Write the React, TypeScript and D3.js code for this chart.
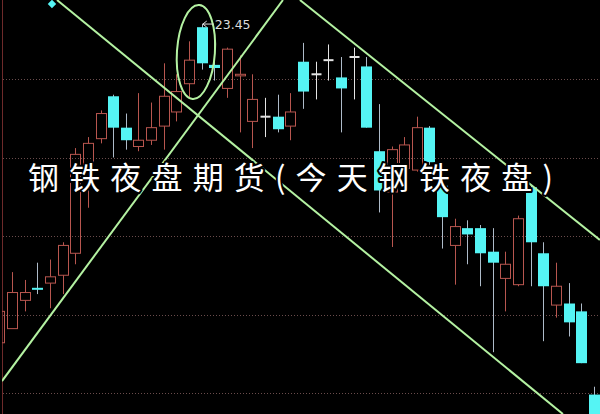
import React from 'react';
import * as d3 from 'd3';

// Daily candles (left → right), price units
const opens = [21.42, 21.51, 21.69, 21.77, 21.80, 21.85, 21.99, 22.55, 22.72, 22.99, 22.79, 22.67, 22.71, 22.80, 22.89, 23.07, 23.43, 23.19, 23.04, 23.12, 22.83, 22.86, 22.86, 22.80, 23.21, 23.13, 23.22, 23.11, 23.24, 23.18, 22.64, 22.38, 22.53, 22.52, 22.79, 22.42, 22.04, 22.15, 22.15, 22.00, 21.83, 21.79, 22.41, 21.99, 21.66, 21.67, 21.62, 21.09];
const highs = [21.69, 21.87, 21.82, 21.93, 21.95, 22.06, 22.66, 22.73, 22.90, 23.00, 22.88, 23.01, 22.95, 23.20, 23.13, 23.34, 23.45, 23.37, 23.30, 23.25, 23.13, 22.98, 23.00, 23.01, 23.33, 23.21, 23.32, 23.24, 23.30, 23.24, 22.94, 22.67, 22.73, 22.86, 22.80, 22.46, 22.21, 22.20, 22.17, 22.15, 22.00, 22.23, 22.42, 22.06, 21.93, 21.80, 21.67, 21.14];
const lows = [21.41, 21.51, 21.62, 21.73, 21.64, 21.73, 21.92, 22.28, 22.69, 22.60, 22.65, 22.64, 22.68, 22.65, 22.83, 22.98, 23.16, 23.09, 22.98, 22.76, 22.66, 22.73, 22.76, 22.71, 22.91, 22.97, 23.09, 22.76, 22.97, 22.79, 22.25, 22.03, 22.49, 22.51, 22.55, 22.02, 21.79, 21.92, 21.78, 21.36, 21.62, 21.78, 21.78, 21.43, 21.58, 21.46, 21.29, 20.90];
const closes = [21.62, 21.74, 21.74, 21.76, 21.84, 22.04, 22.62, 22.69, 22.88, 22.79, 22.71, 22.71, 22.79, 22.99, 23.02, 23.22, 23.20, 23.17, 23.29, 23.13, 22.97, 22.86, 22.78, 22.89, 23.02, 23.13, 23.22, 23.04, 23.24, 22.79, 22.39, 22.65, 22.68, 22.79, 22.57, 22.22, 22.16, 22.11, 21.99, 21.93, 21.92, 22.21, 22.06, 21.78, 21.78, 21.55, 21.29, 20.90];

const gridPrices = [23.1, 22.6, 22.1, 21.6, 21.1];

// Hand-drawn annotations in (candle index, price)
const trendLines: [number, number, number, number][] = [
  [4.557, 23.603, 44.55, 20.966],
  [0.209, 21.176, 22.42, 23.603],
  [23.76, 23.603, 47.47, 22.075],
];
const ellipseCenter = [15.54, 23.272];
const ellipseRadius = [1.5, 0.3];
const markerPoint = [4.16, 23.578];
const peakLabel = '23.45';
const peakIndex = 16;

const title = '钢铁夜盘期货(今天钢铁夜盘)';

const W = 600;
const H = 414;

const UP = '#b8564f';
const DOWN = '#55f4f4';
const DOWN_WICK = '#aebbc9';
const DOJI = '#e4e4e4';
const GREEN = '#b4f2a2';

export default function App() {
  const x = d3.scaleLinear().domain([0, 47]).range([-0.65, 593.9]);
  const y = d3.scaleLinear().domain([23.1, 21.1]).range([79, 393]);
  const bw = 10;

  const line = d3.line<[number, number]>().x((d) => x(d[0])).y((d) => y(d[1]));

  const candles = opens.map((o, i) => {
    const c = closes[i];
    const h = highs[i];
    const l = lows[i];
    const cx = Math.round(x(i)) + 0.5;
    if (o === c) {
      return (
        <g key={i}>
          <line x1={cx} x2={cx} y1={y(h)} y2={y(l)} stroke={DOJI} strokeWidth={1} />
          <line x1={cx - bw / 2} x2={cx + bw / 2} y1={y(o)} y2={y(o)} stroke={DOJI} strokeWidth={2} />
        </g>
      );
    }
    if (c > o) {
      const top = y(c);
      const bot = y(o);
      return (
        <g key={i}>
          <line x1={cx} x2={cx} y1={y(h)} y2={top} stroke={UP} strokeWidth={1} />
          <line x1={cx} x2={cx} y1={bot} y2={y(l)} stroke={UP} strokeWidth={1} />
          <rect x={cx - bw / 2} y={top} width={bw} height={Math.max(bot - top, 1)} fill="none" stroke={UP} strokeWidth={1} />
        </g>
      );
    }
    const top = y(o);
    const bot = y(c);
    return (
      <g key={i}>
        <line x1={cx} x2={cx} y1={y(h)} y2={y(l)} stroke={DOWN_WICK} strokeWidth={1} />
        <rect x={cx - bw / 2 - 0.5} y={top} width={bw + 1} height={Math.max(bot - top, 2)} fill={DOWN} />
      </g>
    );
  });

  const px = x(peakIndex);
  const py = y(highs[peakIndex]);

  const ex = x(ellipseCenter[0]);
  const ey = y(ellipseCenter[1]);
  const erx = x(ellipseCenter[0] + ellipseRadius[0]) - ex;
  const ery = y(ellipseCenter[1] - ellipseRadius[1]) - ey;

  const mx = x(markerPoint[0]);
  const my = y(markerPoint[1]);

  return (
    <svg width={W} height={H} style={{ position: 'absolute', left: 0, top: 0, background: '#000' }}>
      <defs>
        <clipPath id="plot">
          <rect x={2} y={0} width={W - 2} height={H} />
        </clipPath>
      </defs>
      <rect x={0} y={0} width={W} height={H} fill="#000" />
      <line x1={2.5} x2={2.5} y1={0} y2={H} stroke="#6e2a2a" strokeWidth={1} />
      <g clipPath="url(#plot)">
        {gridPrices.map((p) => (
          <line key={p} x1={3} x2={W} y1={Math.round(y(p)) + 0.5} y2={Math.round(y(p)) + 0.5} stroke="#6a4c4c" strokeWidth={1} strokeDasharray="1,2" />
        ))}
        {candles}
        {trendLines.map((t, i) => (
          <path key={i} d={line([[t[0], t[1]], [t[2], t[3]]]) || ''} stroke={GREEN} strokeWidth={2} fill="none" />
        ))}
        <ellipse cx={ex} cy={ey} rx={erx} ry={ery} fill="none" stroke={GREEN} strokeWidth={2} transform={`rotate(4 ${ex} ${ey})`} />
        <rect x={mx - 3} y={my - 3} width={6} height={6} fill={DOWN} transform={`rotate(45 ${mx} ${my})`} />
        <g>
          <line x1={px + 1} x2={px + 12} y1={py} y2={py} stroke="#dcdcdc" strokeWidth={1} />
          <path d={`M${px + 1},${py} l4,-3 M${px + 1},${py} l4,3`} stroke="#dcdcdc" strokeWidth={1} fill="none" />
          <text x={px + 13} y={py + 5} fontFamily="'DejaVu Sans', Arial, sans-serif" fontSize={12.5} fill="#dcdcdc">
            {peakLabel}
          </text>
        </g>
      </g>
      <text
        x={28}
        y={189}
        textLength={525}
        lengthAdjust="spacing"
        fontFamily="'Noto Sans CJK SC', sans-serif"
        fontSize={31}
        fontWeight={400}
        fill="#ffffff"
        stroke="#000"
        strokeWidth={4}
        strokeLinejoin="round"
        style={{ paintOrder: 'stroke' }}
      >
        {title}
      </text>
    </svg>
  );
}
